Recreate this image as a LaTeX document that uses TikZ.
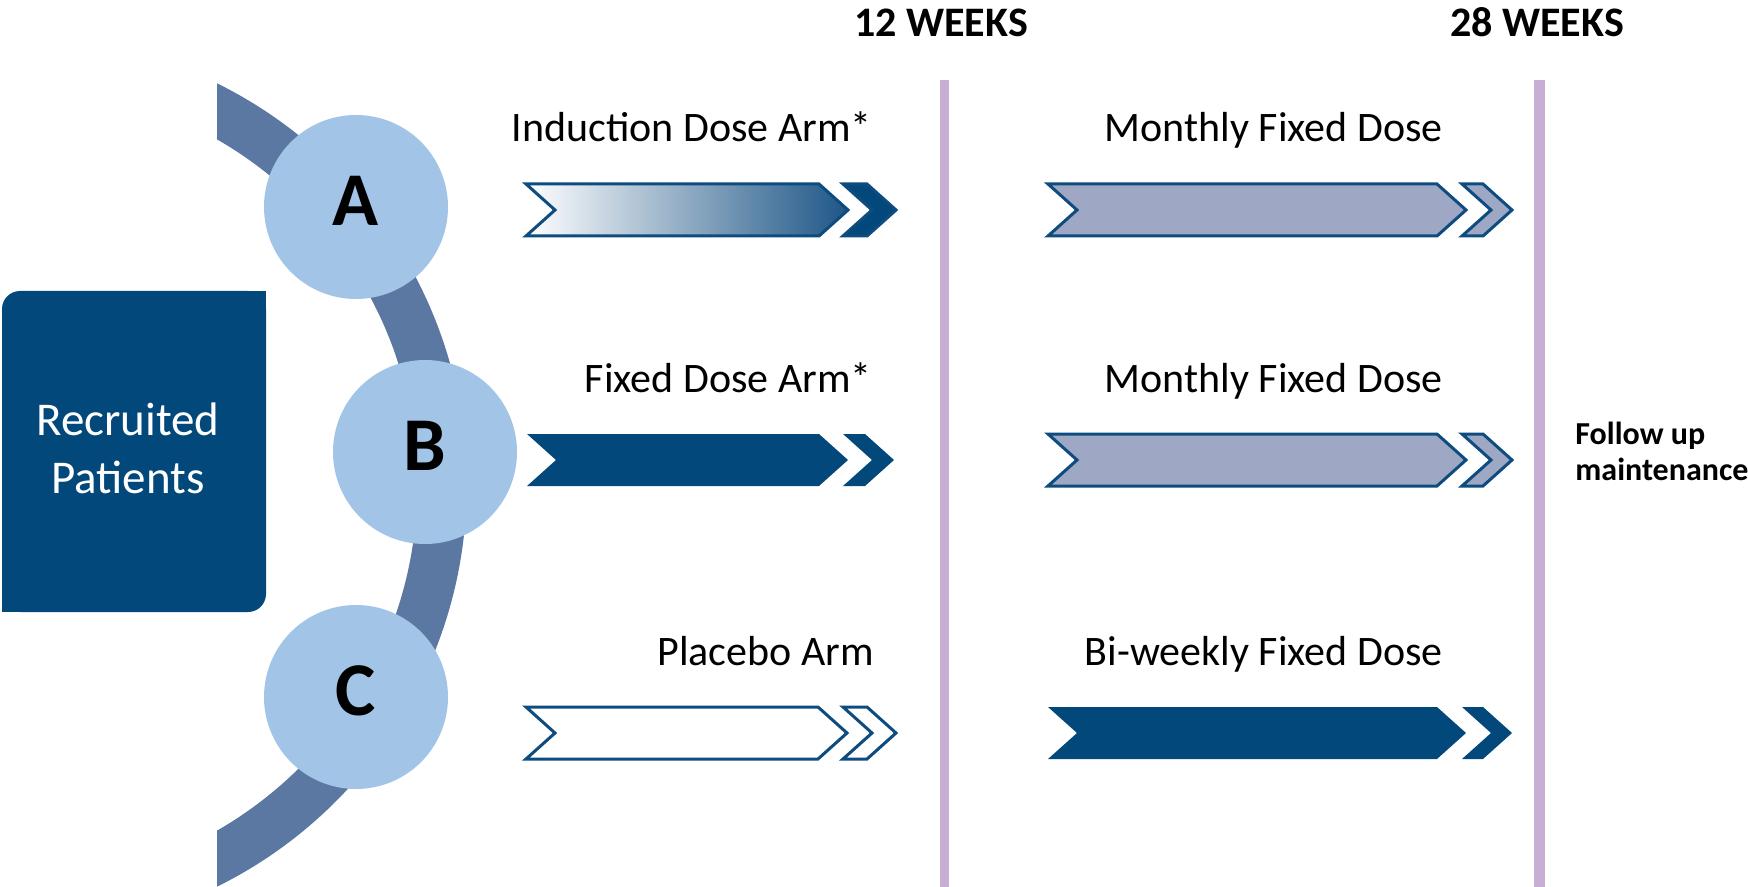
\documentclass[tikz,border=0pt]{standalone}
\usepackage{fontspec}
\setmainfont{Carlito}
\definecolor{navy}{HTML}{02487A}
\definecolor{edge}{HTML}{0E4C80}
\definecolor{ring}{HTML}{5B78A2}
\definecolor{disc}{HTML}{A2C4E6}
\definecolor{slate}{HTML}{9EA8C4}
\definecolor{lilac}{HTML}{C8AED4}
\definecolor{gradend}{HTML}{1E5686}
\tikzset{
  % chevron band: #1 = length of the straight part, notch and tip 29 units deep
  pics/chev/.style={code={
    \path[pic actions] (0,-26) -- (#1,-26) -- (#1+29,0) -- (#1,26) -- (0,26) -- (29,0) -- cycle;
  }},
  outlined/.style={draw=edge, line width=1.5pt, line join=miter},
  solid navy/.style={fill=navy},
  discnode/.style={circle, fill=disc, minimum size=92pt, inner sep=0pt},
  letter/.style={font=\fontsize{38}{40}\selectfont\bfseries, inner sep=0pt},
  armlabel/.style={font=\fontsize{21}{25}\selectfont, anchor=base east, inner sep=0pt},
  header/.style={font=\fontsize{21}{24}\selectfont\bfseries, anchor=base, inner sep=0pt},
}
\begin{document}
\begin{tikzpicture}[x=0.5pt, y=-0.5pt]
\useasboundingbox (0,0) rectangle (1748,887);

% curved band joining the three arms
\begin{scope}
  \clip (217,0) rectangle (700,887);
  \draw[ring, line width=24.75pt] (19,485) circle [radius=211.5pt];
\end{scope}

% recruitment box: rounded top-left and bottom-right corners only
\fill[navy] (246,291) rectangle (266,311);
\fill[navy] (2,592) rectangle (22,612);
\node[fill=navy, rounded corners=9pt, minimum width=132pt, minimum height=160.5pt,
      inner sep=0pt] (recruit) at (134,451.5) {};
\node[font=\fontsize{23.5}{29}\selectfont, text=white, align=center, inner sep=0pt]
      (recruittext) at (128,448) {Recruited\\Patients};

% arm discs
\node[discnode] (A) at (356,207) {};
\node[discnode] (B) at (425,452) {};
\node[discnode] (C) at (356,697) {};
\node[letter] (Aletter) at ([yshift=3pt]A.center) {A};
\node[letter] (Bletter) at ([yshift=3pt]B.center) {B};
\node[letter] (Cletter) at ([yshift=3pt]C.center) {C};

% time markers
\fill[lilac] (940,80) rectangle (949,887);
\fill[lilac] (1534,80) rectangle (1545,887);
\node[header] (w12) at (941,37) {12 WEEKS};
\node[header] (w28) at (1537,37) {28 WEEKS};

% arm A
\pic[outlined, left color=white, right color=gradend] (a1) at (526,210) {chev=293};
\pic[outlined, fill=navy] (a2) at (843,210) {chev=24};
\pic[outlined, fill=slate] (a3) at (1048,210) {chev=389};
\pic[outlined, fill=slate] (a4) at (1462,210) {chev=21};
\node[armlabel] (alabel) at (872,142) {Induction Dose Arm*};
\node[armlabel] (aright) at (1443,142) {Monthly Fixed Dose};

% arm B
\pic[solid navy] (b1) at (527,460) {chev=292};
\pic[solid navy] (b2) at (843,460) {chev=22};
\pic[outlined, fill=slate] (b3) at (1048,460) {chev=389};
\pic[outlined, fill=slate] (b4) at (1462,460) {chev=21};
\node[armlabel] (blabel) at (872,392) {Fixed Dose Arm*};
\node[armlabel] (bright) at (1443,392) {Monthly Fixed Dose};

% arm C
\pic[outlined, fill=white] (c1) at (526,733) {chev=292};
\pic[outlined, fill=white] (c2) at (843,733) {chev=24};
\pic[solid navy] (c3) at (1048,733) {chev=389};
\pic[solid navy] (c4) at (1462,733) {chev=21};
\node[armlabel] (clabel) at (874,665) {Placebo Arm};
\node[armlabel] (cright) at (1443,665) {Bi-weekly Fixed Dose};

% after week 28
\node[font=\fontsize{16}{18}\selectfont\bfseries, align=left, anchor=west, inner sep=0pt]
      (followup) at (1575,451) {Follow up\\maintenance};
\end{tikzpicture}
\end{document}
